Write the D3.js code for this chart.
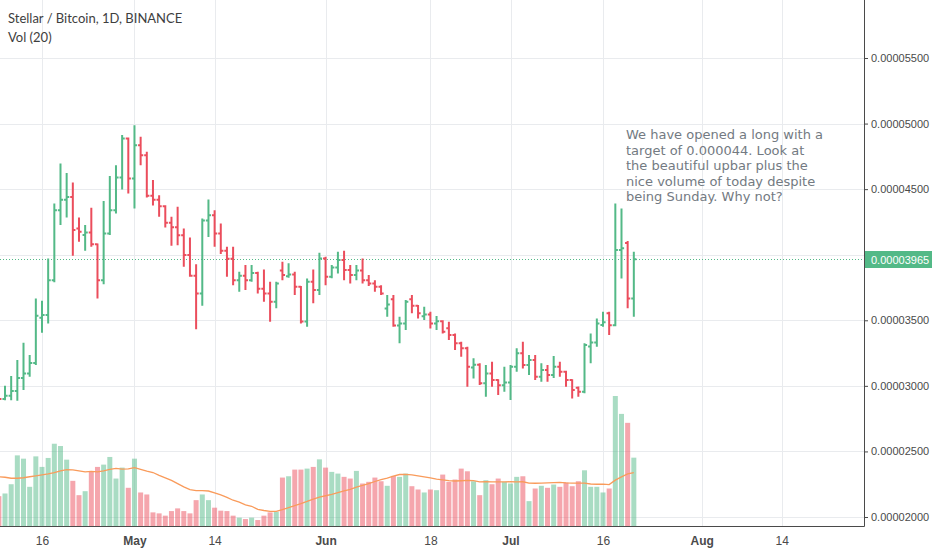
<!DOCTYPE html>
<html>
<head>
<meta charset="utf-8">
<script src="https://cdn.jsdelivr.net/npm/d3@7"></script>
<style>
  html, body { margin: 0; padding: 0; background: #fff; }
  svg { display: block; }
</style>
</head>
<body>
<svg id="chart" width="932" height="550"></svg>
<script>
// XLM/BTC daily bars, Binance. prices in satoshi (1e-8 BTC), one bar per day from firstDay
const firstDay = '2018-04-09'

const opens = [
  2950, 2899, 2925, 2960, 3059, 3095, 3174, 3520, 3540, 3806, 4340, 4420, 4440, 4200, 4150, 4170, 4080, 3806, 4162, 4340, 4589, 4886,
  4581, 4835, 4759, 4450, 4420, 4370, 4243, 4210, 4149, 3997, 3840, 3705, 4260, 4300, 4162, 4030, 3970, 3806, 3840, 3806, 3860, 3740, 3705, 3641, 3880, 3835, 3850, 3755, 3490, 3794, 3730,
  3972, 3832, 3903, 3959, 3883, 3845, 3880, 3806, 3781, 3755, 3590, 3660, 3460, 3476, 3660, 3610, 3530, 3545, 3476, 3492, 3440, 3387, 3324, 3286, 3140, 3160, 3019, 3095, 3044, 3005,
  3025, 3146, 3248, 3159, 3197, 3069, 3120, 3082, 3146, 3108, 3044, 2985, 2955, 3300, 3330, 3465, 3553, 3463, 4035, 4090, 3667
]
const highs = [
  2985, 3000, 3075, 3197, 3329, 3235, 3667, 3649, 3972, 4391, 4696, 4624, 4551, 4284, 4226, 4358, 4086, 4409, 4600, 4683, 4912, 4894,
  4988, 4899, 4785, 4569, 4454, 4378, 4289, 4365, 4200, 4131, 3928, 4277, 4421, 4340, 4238, 4060, 4060, 3870, 3921, 3921, 3870, 3888, 3794, 3794, 3946, 3934, 3870, 3761, 3819, 3888, 4015,
  3984, 3921, 4022, 4030, 3921, 3921, 3972, 3845, 3806, 3768, 3692, 3692, 3527, 3654, 3692, 3616, 3603, 3565, 3532, 3500, 3489, 3400, 3336, 3298, 3210, 3172, 3159, 3184, 3050, 3146,
  3159, 3286, 3336, 3235, 3235, 3172, 3159, 3227, 3184, 3115, 3050, 2995, 3324, 3400, 3514, 3565, 3565, 4391, 4353, 4105, 4022
]
const lows = [
  2870, 2890, 2890, 2886, 2968, 3069, 3159, 3405, 3476, 3790, 4226, 4284, 3993, 4098, 4030, 4060, 3667, 3774, 4150, 4315, 4498, 4467,
  4353, 4683, 4437, 4376, 4289, 4208, 4068, 4073, 3908, 3832, 3431, 3611, 4136, 4060, 4005, 3832, 3768, 3717, 3730, 3794, 3705, 3641, 3489, 3591, 3806, 3825, 3692, 3476, 3450, 3629, 3692,
  3768, 3820, 3857, 3806, 3781, 3806, 3781, 3761, 3717, 3692, 3527, 3450, 3324, 3425, 3553, 3514, 3502, 3438, 3425, 3400, 3349, 3273, 3222, 2993, 3057, 3006, 2917, 2993, 2930, 2955,
  2892, 3108, 3133, 3082, 3044, 3031, 3031, 3060, 3069, 2993, 2904, 2917, 2943, 3172, 3298, 3450, 3387, 3455, 3819, 3591, 3527
]
const closes = [
  2899, 2925, 2960, 3059, 3095, 3174, 3534, 3540, 3806, 4340, 4420, 4440, 4188, 4175, 4170, 4080, 3806, 4162, 4340, 4589, 4886, 4581,
  4835, 4759, 4450, 4420, 4370, 4243, 4210, 4149, 3997, 3840, 3705, 4260, 4300, 4162, 4030, 3970, 3806, 3840, 3806, 3860, 3740, 3705, 3641, 3780, 3845, 3850, 3755, 3490, 3794, 3730, 3972,
  3832, 3903, 3959, 3883, 3845, 3880, 3806, 3781, 3755, 3705, 3620, 3460, 3476, 3641, 3610, 3553, 3545, 3476, 3492, 3412, 3387, 3324, 3286, 3146, 3160, 3019, 3095, 3044, 3005, 3025,
  3146, 3248, 3159, 3197, 3069, 3120, 3082, 3146, 3108, 3044, 2968, 2955, 3311, 3330, 3476, 3485, 3463, 4035, 4050, 3667, 3965
]
// volume (no scale shown on the chart, arbitrary units)
const volumes = [
  30, 32.7, 42, 71, 67.7, 39.4, 70, 59.4, 68.4, 82.7, 80.4, 66.7, 45.4, 31, 35, 54.4, 59.4, 61.7, 69.4, 47.7, 58.7, 38.4,
  67.7, 33.7, 31.7, 13.7, 12.7, 10.4, 15, 17.7, 15, 12.7, 26, 31.7, 26, 18.4, 15.4, 15, 10.4, 8.4, 7, 8.4, 6, 10.4, 13.7, 14.4, 48.7, 50, 56.7, 56.7, 57.7, 59.4, 67,
  58.7, 54.4, 52.7, 49.4, 47.7, 55.4, 42.7, 44.4, 48.7, 45, 40.4, 50.4, 49.4, 52.7, 40, 36.7, 33.7, 36.7, 36, 51.7, 44.4, 46.7, 57.7, 55, 45, 31, 46, 42, 47.7, 44.4,
  42.7, 49.4, 50, 25, 37.7, 40.4, 38.4, 41.7, 39.4, 43.7, 40, 45, 56, 39.4, 39.4, 33.7, 37.7, 130.7, 112.7, 103.7, 68.7
]
// Vol MA(20) for the first 20 bars (earlier volume is off the chart)
const volMaHead = [49.5, 49, 48, 48, 48.5, 49.5, 50.5, 51.5, 52.5, 53.7, 55.5, 56.7, 56.5, 55.5, 54.5, 55, 54.5, 55.5, 57, 58]
const maLength = 20

const lastPrice = 3965
const priceTicks = [2000, 2500, 3000, 3500, 4000, 4500, 5000, 5500]
const timeTicks = ['2018-04-16', '2018-05-01', '2018-05-14', '2018-06-01', '2018-06-18', '2018-07-01', '2018-07-16', '2018-08-01', '2018-08-14']
const timeLabels = ['16', 'May', '14', 'Jun', '18', 'Jul', '16', 'Aug', '14']

const titleText = 'Stellar / Bitcoin, 1D, BINANCE'
const volText = 'Vol (20)'
const noteLines = [
  'We have opened a long with a',
  'target of 0.000044. Look at',
  'the beautiful upbar plus the',
  'nice volume of today despite',
  'being Sunday. Why not?'
]

const up = '#53b987'
const down = '#eb4d5c'
const grid = '#e9ebee'
const axisCol = '#4a4a4a'

const plot = { left: 0, right: 864, top: 0, bottom: 526 }

const svg = d3.select('#chart')

const days = d3.utcDay.range(new Date(firstDay), d3.utcDay.offset(new Date(firstDay), closes.length))
const bars = days.map((d, i) => ({ date: d, o: opens[i], h: highs[i], l: lows[i], c: closes[i], v: volumes[i] }))
console.log('bars: ' + bars.length)

const x = d3.scaleUtc()
  .domain([new Date('2018-04-16'), new Date('2018-07-16')])
  .range([42, 603])

const y = d3.scaleLinear()
  .domain([2000, 5500])
  .range([517, 58])

const yVol = d3.scaleLinear()
  .domain([0, d3.max(volumes)])
  .range([plot.bottom, plot.bottom - 130])

svg.append('clipPath').attr('id', 'plotClip')
  .append('rect')
  .attr('x', plot.left).attr('y', plot.top)
  .attr('width', plot.right - plot.left).attr('height', plot.bottom - plot.top)

// grid
const gridG = svg.append('g').attr('class', 'grid')
gridG.selectAll('.hgrid')
  .data(priceTicks)
  .enter()
  .append('line')
  .attr('x1', plot.left).attr('x2', plot.right)
  .attr('y1', d => Math.round(y(d)) + 0.5).attr('y2', d => Math.round(y(d)) + 0.5)
  .attr('stroke', grid)
gridG.selectAll('.vgrid')
  .data(timeTicks)
  .enter()
  .append('line')
  .attr('x1', d => Math.round(x(new Date(d))) + 0.5).attr('x2', d => Math.round(x(new Date(d))) + 0.5)
  .attr('y1', plot.top).attr('y2', plot.bottom)
  .attr('stroke', grid)

const body = svg.append('g').attr('clip-path', 'url(#plotClip)')

// volume
const vw = 5
body.selectAll('.vol')
  .data(bars)
  .enter()
  .append('rect')
  .attr('x', d => x(d.date) - vw / 2)
  .attr('y', d => yVol(d.v))
  .attr('width', vw)
  .attr('height', d => plot.bottom - yVol(d.v))
  .attr('fill', d => d.c >= d.o ? up : down)
  .attr('opacity', 0.5)

const volMa = volumes.map((v, i) => i < volMaHead.length ? volMaHead[i] : d3.mean(volumes.slice(i - maLength + 1, i + 1)))
const maLine = d3.line()
  .x((d, i) => x(bars[i].date))
  .y(d => yVol(d))
body.append('path')
  .attr('d', maLine(volMa))
  .attr('fill', 'none')
  .attr('stroke', '#f99b5b')
  .attr('stroke-width', 1.3)

// last price line
body.append('line')
  .attr('x1', plot.left).attr('x2', plot.right)
  .attr('y1', Math.round(y(lastPrice)) + 0.5).attr('y2', Math.round(y(lastPrice)) + 0.5)
  .attr('stroke', up)
  .attr('stroke-width', 1)
  .attr('stroke-dasharray', '1,2')

// ohlc bars
const tick = 2.6
body.selectAll('.ohlc')
  .data(bars)
  .enter()
  .append('path')
  .attr('d', d => {
    const cx = x(d.date)
    return `M${cx},${y(d.h)}V${y(d.l)}M${cx - tick},${y(d.o)}H${cx}M${cx},${y(d.c)}H${cx + tick}`
  })
  .attr('fill', 'none')
  .attr('stroke', d => d.c >= d.o ? up : down)
  .attr('stroke-width', 2)

// axes
const yAxis = d3.axisRight(y)
  .tickValues(priceTicks.filter(t => Math.abs(y(t) - y(lastPrice)) > 14))
  .tickFormat(d => (d / 1e8).toFixed(8))
  .tickSize(4)
  .tickPadding(3)
const yG = svg.append('g')
  .attr('transform', `translate(${plot.right},0)`)
  .call(yAxis)
yG.select('.domain').remove()
yG.selectAll('line').attr('stroke', axisCol)
yG.selectAll('text')
  .attr('fill', axisCol)
  .style('font-family', '"Liberation Sans", Arial, sans-serif')
  .style('font-size', '11px')

const xAxis = d3.axisBottom(x)
  .tickValues(timeTicks.map(d => new Date(d)))
  .tickFormat((d, i) => timeLabels[i])
  .tickSize(0)
  .tickPadding(10)
const xG = svg.append('g')
  .attr('transform', `translate(0,${plot.bottom})`)
  .call(xAxis)
xG.select('.domain').remove()
xG.selectAll('text')
  .attr('fill', axisCol)
  .style('font-family', '"Liberation Sans", Arial, sans-serif')
  .style('font-size', '12px')
  .style('font-weight', (d, i) => isNaN(+timeLabels[i]) ? 'bold' : 'normal')

svg.append('line')
  .attr('x1', plot.right + 0.5).attr('x2', plot.right + 0.5)
  .attr('y1', plot.top).attr('y2', plot.bottom + 0.5)
  .attr('stroke', axisCol)
svg.append('line')
  .attr('x1', plot.left).attr('x2', plot.right + 0.5)
  .attr('y1', plot.bottom + 0.5).attr('y2', plot.bottom + 0.5)
  .attr('stroke', axisCol)

// last price label
const ly = Math.round(y(lastPrice))
svg.append('rect')
  .attr('x', plot.right + 1).attr('y', ly - 8)
  .attr('width', 932 - plot.right).attr('height', 17)
  .attr('fill', up)
svg.append('text')
  .attr('x', plot.right + 7).attr('y', ly + 4.5)
  .text((lastPrice / 1e8).toFixed(8))
  .attr('fill', '#fff')
  .style('font-family', '"Liberation Sans", Arial, sans-serif')
  .style('font-size', '11px')

// legend
svg.append('text')
  .attr('x', 8).attr('y', 23)
  .text(titleText)
  .attr('fill', '#3e3e3e')
  .style('font-family', 'Lato, sans-serif')
  .style('font-size', '13px')
svg.append('text')
  .attr('x', 8).attr('y', 42)
  .text(volText)
  .attr('fill', '#3e3e3e')
  .style('font-family', 'Lato, sans-serif')
  .style('font-size', '13px')

// idea note
svg.append('g')
  .selectAll('text')
  .data(noteLines)
  .enter()
  .append('text')
  .attr('x', 626)
  .attr('y', (d, i) => 139 + i * 15.6)
  .text(d => d)
  .attr('fill', '#737a82')
  .style('font-family', '"DejaVu Sans", sans-serif')
  .style('font-size', '13px')
</script>
</body>
</html>
